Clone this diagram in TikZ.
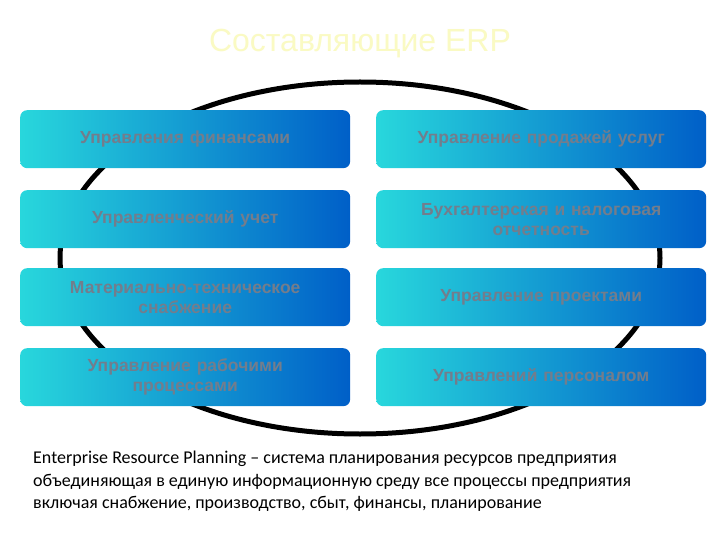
\documentclass[tikz,border=0pt]{standalone}
\usepackage{fontspec}
\setmainfont{Liberation Sans}
\newfontfamily\calib{Carlito}
\definecolor{cyanL}{RGB}{40,215,220}
\definecolor{blueR}{RGB}{0,95,200}
\definecolor{txtg}{RGB}{115,125,140}
\definecolor{titley}{RGB}{250,250,195}
\begin{document}
\begin{tikzpicture}[x=1pt,y=-1pt,
  box/.style={rounded corners=7pt, left color=cyanL, right color=blueR, draw=none,
    minimum width=330pt, minimum height=58pt, text width=320pt, align=center,
    text=txtg, font=\bfseries\fontsize{17.5}{20}\selectfont, anchor=north west, inner sep=0pt},
  bodytxt/.style={font=\calib\fontsize{18}{22.5}\selectfont, anchor=north west, align=left, inner sep=0pt}]
\useasboundingbox (0,0) rectangle (720,540);
\fill[white] (0,0) rectangle (720,540);
\node[text=titley, font=\fontsize{32}{34}\selectfont] (title) at (360,44) {Составляющие ERP};
\draw[line width=5pt] (360,258) ellipse [x radius=300, y radius=176];
\node[box] (a1) at (20,110) {Управления финансами};
\node[box] (b1) at (376,110) {Управление продажей услуг};
\node[box] (a2) at (20,190) {Управленческий учет};
\node[box] (b2) at (376,190) {Бухгалтерская и налоговая\\отчетность};
\node[box] (a3) at (20,268) {Материально-техническое\\снабжение};
\node[box] (b3) at (376,268) {Управление проектами};
\node[box] (a4) at (20,348) {Управление рабочими\\процессами};
\node[box] (b4) at (376,348) {Управлений персоналом};
\node[bodytxt] (desc) at (33,451) {Enterprise Resource Planning – система планирования ресурсов предприятия\\объединяющая в единую информационную среду все процессы предприятия\\включая снабжение, производство, сбыт, финансы, планирование};
\end{tikzpicture}
\end{document}
